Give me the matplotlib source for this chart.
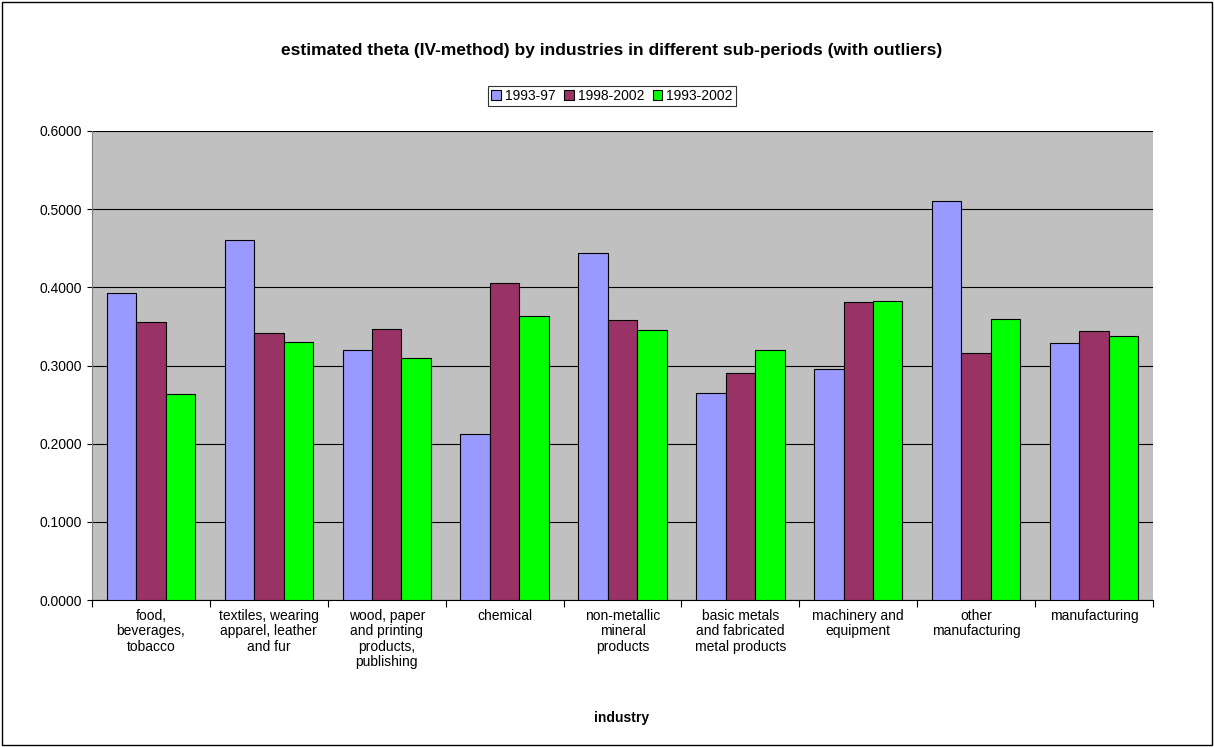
import matplotlib
matplotlib.use("Agg")
import matplotlib.pyplot as plt
import numpy as np
from matplotlib.patches import Rectangle

categories = ["food,\nbeverages,\ntobacco", "textiles, wearing\napparel, leather\nand fur",
              "wood, paper\nand printing\nproducts,\npublishing", "chemical",
              "non-metallic\nmineral\nproducts", "basic metals\nand fabricated\nmetal products",
              "machinery and\nequipment", "other\nmanufacturing", "manufacturing"]
s1 = [0.393, 0.460, 0.320, 0.213, 0.444, 0.265, 0.296, 0.510, 0.329]
s2 = [0.356, 0.341, 0.347, 0.405, 0.358, 0.291, 0.381, 0.316, 0.344]
s3 = [0.264, 0.330, 0.310, 0.363, 0.345, 0.320, 0.383, 0.359, 0.338]
names = ["1993-97", "1998-2002", "1993-2002"]
colors = ["#9999FF", "#993366", "#00FF00"]

W, H = 1214, 747
fig = plt.figure(figsize=(W/100, H/100), dpi=100)
fig.patches.append(Rectangle((2/W, 2/H), 1-4/W, 1-4/H, transform=fig.transFigure,
                             fill=False, edgecolor="black", linewidth=1))
ax = fig.add_axes([92/W, 1-600/H, (1153-92)/W, (600-131)/H])
ax.set_facecolor("#C0C0C0")
x = np.arange(len(categories))
w = 0.25
for i, (s, n, c) in enumerate(zip([s1, s2, s3], names, colors)):
    ax.bar(x + (i-1)*w, s, w, color=c, edgecolor="black", linewidth=0.8, label=n, zorder=3)
ax.set_xlim(-0.5, len(categories)-0.5)
ax.set_ylim(0, 0.6)
ax.set_yticks(np.arange(0, 0.61, 0.1))
ax.set_yticklabels([f"{v:.4f}" for v in np.arange(0, 0.61, 0.1)], fontsize=10, family="Liberation Sans")
ax.yaxis.grid(True, color="black", linewidth=0.8, zorder=0)
ax.set_xticks(np.arange(-0.5, len(categories)), minor=False)
ax.set_xticklabels([])
ax.tick_params(axis="x", length=5, direction="out")
for xi, c in zip(x, categories):
    ax.text(xi, -0.012, c, ha="center", va="top", fontsize=10, family="Liberation Sans",
            transform=ax.transData, linespacing=1.1)
for sp in ["top", "right"]:
    ax.spines[sp].set_visible(False)
ax.spines["left"].set_color("gray")
ax.spines["bottom"].set_color("black")
fig.text(612/W, 1-51/H, "estimated theta (IV-method) by industries in different sub-periods (with outliers)",
         ha="center", va="center", fontsize=12.5, fontweight="bold", family="Liberation Sans")
fig.text(622/W, 1-718/H, "industry", ha="center", va="center", fontsize=10, fontweight="bold",
         family="Liberation Sans")
leg = fig.legend(loc="center", bbox_to_anchor=(612/W, 1-96/H), ncol=3,
                 prop={"family": "Liberation Sans", "size": 10}, frameon=True, fancybox=False,
                 edgecolor="black", handlelength=0.7, handleheight=0.7, columnspacing=0.6,
                 handletextpad=0.3, borderpad=0.2)
leg.get_frame().set_linewidth(0.8)
fig.savefig("out.png", dpi=100)
